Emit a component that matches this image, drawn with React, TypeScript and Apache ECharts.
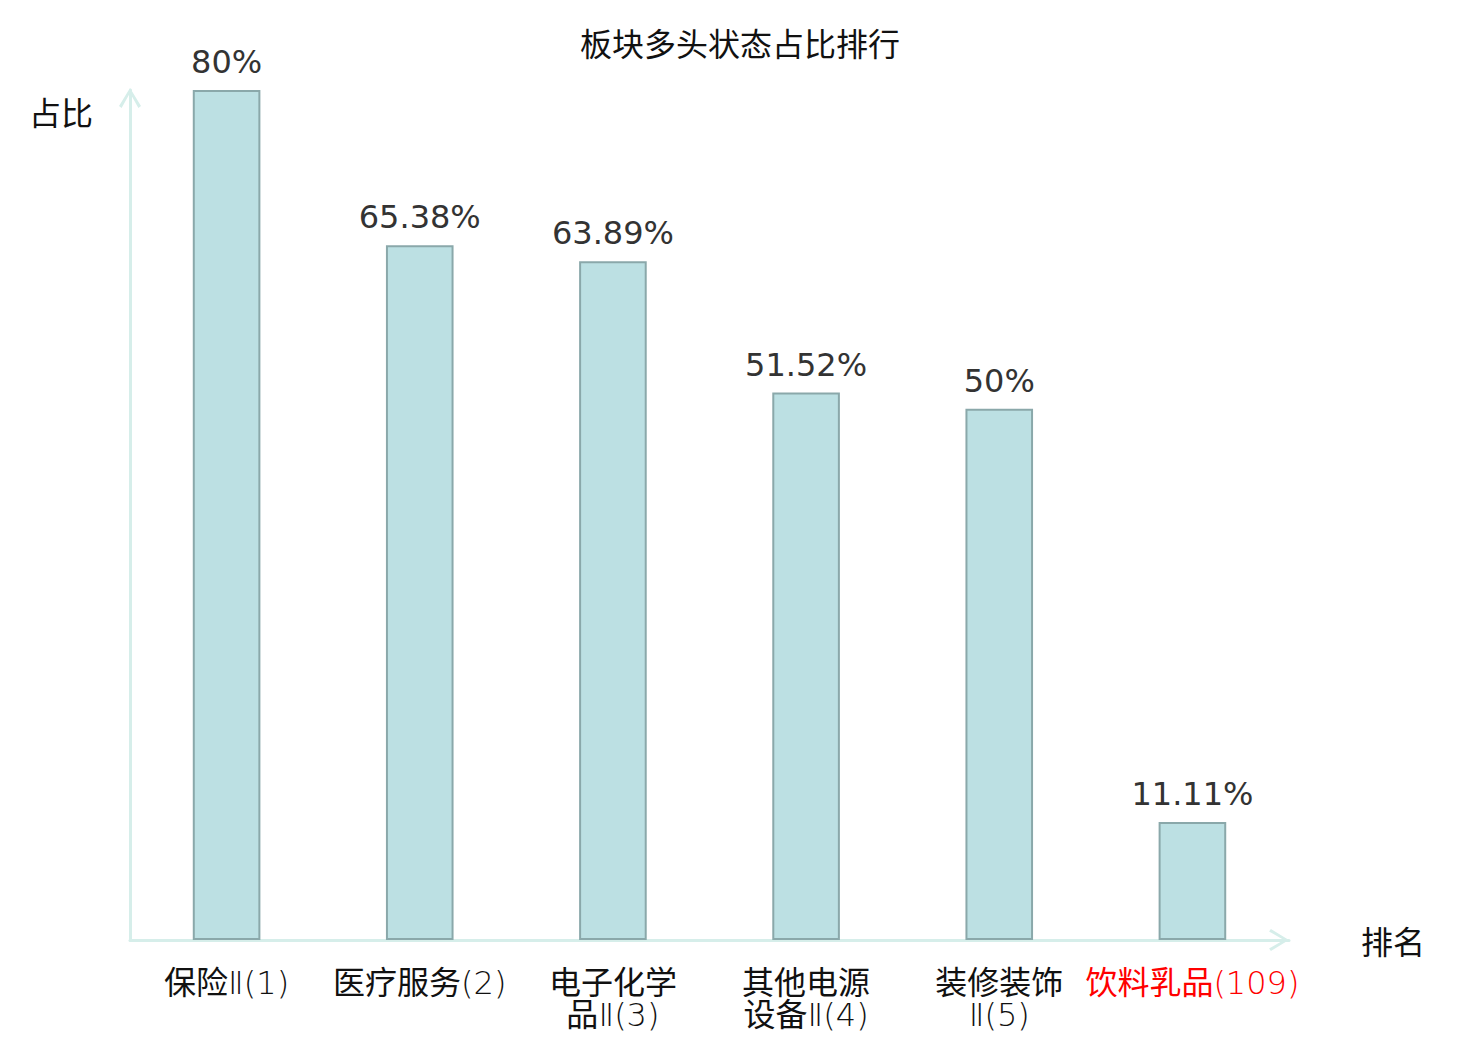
import React, { useEffect, useRef } from "react";
import * as echarts from "echarts";

const title = "板块多头状态占比排行";
const categories = [
  "保险Ⅱ(1)",
  "医疗服务(2)",
  "电子化学\n品Ⅱ(3)",
  "其他电源\n设备Ⅱ(4)",
  "装修装饰\nⅡ(5)",
  "饮料乳品(109)",
];
const values = [80, 65.38, 63.89, 51.52, 50, 11.11];
const highlightIndex = 5;
const xName = "排名";
const yName = "占比";

const AXIS_COLOR = "#d6eeea";
const CHEVRON = "path://M0,18 L11,0 L22,18 L19.4,19.8 L11,5 L2.6,19.8 Z";
const CJK = "Noto Sans CJK SC";
const LABEL_COLOR = "#111111";
const HIGHLIGHT_COLOR = "#ff0000";

function formatCategory(value: string, index: number) {
  const suffix = index === highlightIndex ? "r" : "";
  const runs = value.match(/[\u4e00-\u9fff]+|\n|[^\u4e00-\u9fff\n]+/g) || [];
  return runs
    .map((run) => {
      if (run === "\n") return "\n";
      const isCjk = /[\u4e00-\u9fff]/.test(run);
      return `{${isCjk ? "c" : "l"}${suffix}|${run}}`;
    })
    .join("");
}

const cjkRich = { fontSize: 32, lineHeight: 32, fontFamily: CJK, fontWeight: "normal" };
const latinRich = {
  fontSize: 32,
  lineHeight: 32,
  fontFamily: "DejaVu Sans",
  fontWeight: 200,
  padding: [6, 0, 0, 0],
};

export default function App() {
  const ref = useRef<HTMLDivElement>(null);
  useEffect(() => {
    document.body.style.margin = "0";
    const chart = echarts.init(ref.current!, null, { renderer: "svg" });
    chart.setOption({
      animation: false,
      backgroundColor: "#ffffff",
      title: {
        text: title,
        left: "center",
        top: 21,
        textStyle: {
          fontSize: 32,
          fontWeight: "normal",
          color: "#111111",
          fontFamily: CJK,
        },
      },
      grid: { left: 130, right: 191, top: 90, bottom: 100 },
      xAxis: {
        type: "category",
        data: categories,
        name: xName,
        nameLocation: "end",
        nameGap: 72,
        nameTextStyle: {
          fontSize: 32,
          color: "#111111",
          fontFamily: CJK,
          verticalAlign: "middle",
        },
        axisLine: {
          show: true,
          symbol: ["none", CHEVRON],
          symbolSize: [22, 20],
          symbolOffset: [0, -10],
          lineStyle: { color: AXIS_COLOR, width: 3 },
        },
        axisTick: { show: false },
        axisLabel: {
          interval: 0,
          margin: 24,
          fontSize: 32,
          lineHeight: 32,
          formatter: formatCategory,
          rich: {
            c: { ...cjkRich, color: LABEL_COLOR },
            l: { ...latinRich, color: LABEL_COLOR },
            cr: { ...cjkRich, color: HIGHLIGHT_COLOR },
            lr: { ...latinRich, color: HIGHLIGHT_COLOR },
          },
        },
        splitLine: { show: false },
      },
      yAxis: {
        type: "value",
        min: 0,
        max: 80,
        name: yName,
        nameLocation: "end",
        nameGap: -5,
        nameTextStyle: {
          fontSize: 32,
          color: "#111111",
          fontFamily: CJK,
          align: "right",
          verticalAlign: "top",
          padding: [0, 37, 0, 0],
        },
        axisLine: {
          show: true,
          symbol: ["none", CHEVRON],
          symbolSize: [22, 20],
          symbolOffset: [0, -8],
          lineStyle: { color: AXIS_COLOR, width: 3 },
        },
        axisTick: { show: false },
        axisLabel: { show: false },
        splitLine: { show: false },
      },
      series: [
        {
          type: "bar",
          data: values,
          barWidth: "35%",
          itemStyle: {
            color: "#bce0e3",
            borderColor: "#8aa8aa",
            borderWidth: 2,
          },
          label: {
            show: true,
            position: "top",
            distance: 12,
            fontSize: 32,
            color: "#333333",
            fontFamily: "DejaVu Sans",
            formatter: (p: any) => `${p.value}%`,
          },
        },
      ],
    });
    return () => chart.dispose();
  }, []);
  return <div ref={ref} style={{ width: 1480, height: 1040 }} />;
}
